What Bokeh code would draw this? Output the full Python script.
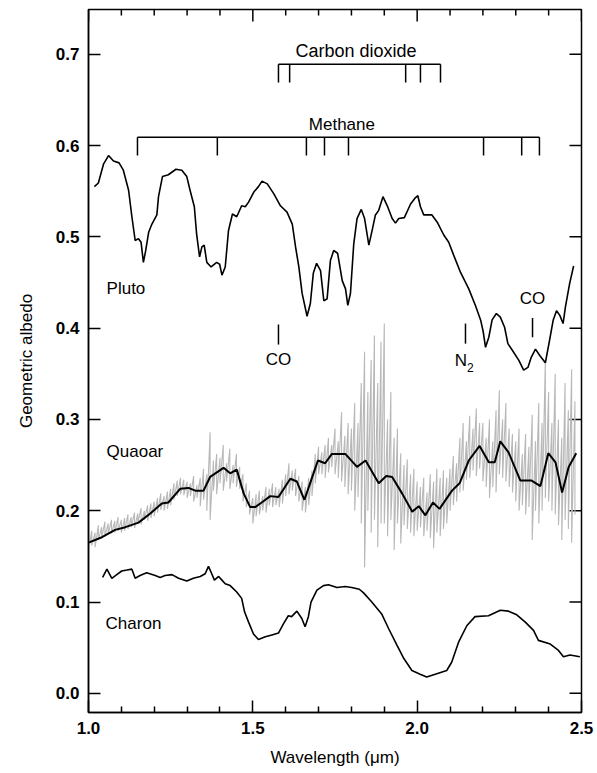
from bokeh.plotting import figure
from bokeh.models import Range1d, FixedTicker, PrintfTickFormatter
from bokeh.core.properties import value
from bokeh.embed import file_html
from bokeh.resources import INLINE

# ---------------- data ----------------
x_ticks = [1.0, 1.5, 2.0, 2.5]
x_minor = [1.1, 1.2, 1.3, 1.4, 1.6, 1.7, 1.8, 1.9, 2.1, 2.2, 2.3, 2.4]
y_ticks = [0.0, 0.1, 0.2, 0.3, 0.4, 0.5, 0.6, 0.7]

pluto_x = [1.018, 1.030, 1.046, 1.061, 1.076, 1.093, 1.106, 1.122, 1.132, 1.142, 1.152, 1.160,
           1.167, 1.174, 1.183, 1.193, 1.208, 1.213, 1.225, 1.243, 1.266, 1.284, 1.299, 1.309,
           1.322, 1.329, 1.338, 1.345, 1.352, 1.360, 1.373, 1.390, 1.399, 1.406, 1.416, 1.426,
           1.438, 1.451, 1.466, 1.477, 1.487, 1.503, 1.517, 1.528, 1.544, 1.564, 1.584, 1.604,
           1.620, 1.630, 1.640, 1.650, 1.665, 1.675, 1.684, 1.694, 1.706, 1.716, 1.726, 1.736,
           1.746, 1.758, 1.772, 1.782, 1.789, 1.797, 1.807, 1.817, 1.830, 1.840, 1.853, 1.863,
           1.873, 1.883, 1.896, 1.909, 1.924, 1.934, 1.944, 1.961, 1.980, 1.995, 2.002, 2.010,
           2.020, 2.045, 2.061, 2.081, 2.096, 2.111, 2.132, 2.157, 2.177, 2.193, 2.201, 2.208,
           2.218, 2.228, 2.241, 2.253, 2.266, 2.276, 2.289, 2.309, 2.324, 2.337, 2.347, 2.360,
           2.373, 2.390, 2.403, 2.414, 2.424, 2.434, 2.444, 2.451, 2.464, 2.476]
pluto_y = [0.555, 0.559, 0.580, 0.589, 0.583, 0.581, 0.573, 0.551, 0.522, 0.496, 0.498, 0.494,
           0.472, 0.485, 0.505, 0.514, 0.524, 0.544, 0.566, 0.568, 0.574, 0.573, 0.566, 0.551,
           0.533, 0.503, 0.478, 0.489, 0.491, 0.472, 0.467, 0.472, 0.470, 0.458, 0.467, 0.507,
           0.525, 0.522, 0.534, 0.533, 0.538, 0.549, 0.555, 0.561, 0.558, 0.547, 0.534, 0.527,
           0.514, 0.489, 0.467, 0.438, 0.413, 0.427, 0.460, 0.471, 0.463, 0.430, 0.432, 0.474,
           0.485, 0.482, 0.452, 0.443, 0.425, 0.438, 0.492, 0.520, 0.530, 0.520, 0.491, 0.507,
           0.524, 0.529, 0.544, 0.534, 0.520, 0.515, 0.520, 0.521, 0.536, 0.543, 0.545, 0.533,
           0.524, 0.524, 0.516, 0.502, 0.494, 0.480, 0.461, 0.443, 0.425, 0.409, 0.396, 0.379,
           0.390, 0.409, 0.416, 0.412, 0.401, 0.383, 0.376, 0.365, 0.354, 0.357, 0.368, 0.377,
           0.370, 0.362, 0.387, 0.409, 0.419, 0.414, 0.405, 0.423, 0.449, 0.468]

quaoar_bin_x = [1.000, 1.041, 1.081, 1.112, 1.152, 1.188, 1.223, 1.243, 1.279, 1.304, 1.325, 1.350,
                1.370, 1.411, 1.431, 1.451, 1.472, 1.492, 1.507, 1.527, 1.553, 1.578, 1.614, 1.634,
                1.657, 1.677, 1.698, 1.720, 1.740, 1.782, 1.817, 1.843, 1.883, 1.906, 1.924, 1.954,
                1.985, 2.005, 2.025, 2.048, 2.068, 2.106, 2.129, 2.157, 2.190, 2.218, 2.236, 2.253,
                2.278, 2.314, 2.348, 2.375, 2.399, 2.421, 2.441, 2.461, 2.484]
quaoar_bin_y = [0.165, 0.171, 0.179, 0.182, 0.187, 0.197, 0.208, 0.209, 0.224, 0.225, 0.222, 0.222,
                0.237, 0.247, 0.241, 0.245, 0.219, 0.204, 0.204, 0.209, 0.216, 0.215, 0.235, 0.232,
                0.212, 0.233, 0.255, 0.252, 0.262, 0.262, 0.248, 0.255, 0.230, 0.238, 0.237, 0.219,
                0.199, 0.205, 0.195, 0.209, 0.202, 0.222, 0.230, 0.255, 0.271, 0.253, 0.253, 0.276,
                0.264, 0.233, 0.233, 0.227, 0.263, 0.253, 0.220, 0.248, 0.263]

quaoar_raw_x = [1.00, 1.01, 1.02, 1.03, 1.04, 1.05, 1.06, 1.07, 1.08, 1.09,
                1.10, 1.11, 1.12, 1.13, 1.14, 1.15, 1.16, 1.17, 1.18, 1.19,
                1.20, 1.21, 1.22, 1.23, 1.24, 1.25, 1.26, 1.27, 1.28, 1.29,
                1.30, 1.31, 1.32, 1.33, 1.34, 1.35, 1.36, 1.37, 1.38, 1.39,
                1.40, 1.41, 1.42, 1.43, 1.44, 1.45, 1.46, 1.47, 1.48, 1.49,
                1.50, 1.51, 1.52, 1.53, 1.54, 1.55, 1.56, 1.57, 1.58, 1.59,
                1.60, 1.61, 1.62, 1.63, 1.64, 1.65, 1.66, 1.67, 1.68, 1.69,
                1.70, 1.71, 1.72, 1.73, 1.74, 1.75, 1.76, 1.77, 1.78, 1.79,
                1.80, 1.81, 1.82, 1.83, 1.84, 1.85, 1.86, 1.87, 1.88, 1.89,
                1.90, 1.91, 1.92, 1.93, 1.94, 1.95, 1.96, 1.97, 1.98, 1.99,
                2.00, 2.01, 2.02, 2.03, 2.04, 2.05, 2.06, 2.07, 2.08, 2.09,
                2.10, 2.11, 2.12, 2.13, 2.14, 2.15, 2.16, 2.17, 2.18, 2.19,
                2.20, 2.21, 2.22, 2.23, 2.24, 2.25, 2.26, 2.27, 2.28, 2.29,
                2.30, 2.31, 2.32, 2.33, 2.34, 2.35, 2.36, 2.37, 2.38, 2.39,
                2.40, 2.41, 2.42, 2.43, 2.44, 2.45, 2.46, 2.47, 2.48]
quaoar_raw_hi = [0.172, 0.178, 0.176, 0.184, 0.182, 0.188, 0.186, 0.190, 0.189, 0.193,
                 0.190, 0.192, 0.196, 0.193, 0.198, 0.197, 0.203, 0.200, 0.206, 0.208,
                 0.210, 0.214, 0.219, 0.216, 0.221, 0.224, 0.230, 0.233, 0.236, 0.234,
                 0.232, 0.230, 0.238, 0.228, 0.236, 0.246, 0.240, 0.286, 0.255, 0.262,
                 0.258, 0.272, 0.252, 0.268, 0.250, 0.262, 0.248, 0.240, 0.230, 0.222,
                 0.214, 0.218, 0.222, 0.216, 0.226, 0.224, 0.230, 0.226, 0.224, 0.234,
                 0.240, 0.252, 0.244, 0.246, 0.238, 0.232, 0.226, 0.236, 0.244, 0.262,
                 0.270, 0.264, 0.272, 0.280, 0.272, 0.290, 0.276, 0.308, 0.282, 0.296,
                 0.290, 0.318, 0.296, 0.340, 0.374, 0.330, 0.365, 0.392, 0.340, 0.385,
                 0.405, 0.300, 0.330, 0.280, 0.290, 0.263, 0.250, 0.256, 0.240, 0.246,
                 0.232, 0.226, 0.236, 0.220, 0.240, 0.232, 0.246, 0.236, 0.244, 0.236,
                 0.246, 0.260, 0.252, 0.280, 0.296, 0.276, 0.304, 0.290, 0.312, 0.296,
                 0.296, 0.280, 0.300, 0.276, 0.310, 0.332, 0.300, 0.318, 0.290, 0.284,
                 0.276, 0.290, 0.262, 0.284, 0.270, 0.305, 0.276, 0.318, 0.296, 0.365,
                 0.330, 0.296, 0.350, 0.300, 0.280, 0.340, 0.310, 0.355, 0.320]
quaoar_raw_lo = [0.156, 0.162, 0.160, 0.168, 0.170, 0.172, 0.174, 0.175, 0.176, 0.178,
                 0.176, 0.178, 0.180, 0.182, 0.181, 0.186, 0.185, 0.190, 0.189, 0.192,
                 0.194, 0.198, 0.201, 0.200, 0.202, 0.206, 0.212, 0.216, 0.218, 0.217,
                 0.214, 0.216, 0.210, 0.214, 0.205, 0.212, 0.200, 0.190, 0.222, 0.218,
                 0.230, 0.222, 0.232, 0.224, 0.230, 0.226, 0.224, 0.210, 0.204, 0.196,
                 0.186, 0.194, 0.196, 0.200, 0.198, 0.206, 0.204, 0.206, 0.204, 0.208,
                 0.216, 0.218, 0.222, 0.216, 0.210, 0.200, 0.198, 0.206, 0.216, 0.230,
                 0.240, 0.240, 0.236, 0.242, 0.248, 0.240, 0.236, 0.232, 0.226, 0.218,
                 0.222, 0.200, 0.215, 0.186, 0.138, 0.200, 0.176, 0.190, 0.160, 0.186,
                 0.186, 0.172, 0.190, 0.157, 0.186, 0.164, 0.184, 0.180, 0.176, 0.172,
                 0.178, 0.182, 0.172, 0.178, 0.170, 0.159, 0.176, 0.172, 0.180, 0.186,
                 0.200, 0.206, 0.210, 0.220, 0.222, 0.234, 0.236, 0.244, 0.238, 0.246,
                 0.232, 0.226, 0.214, 0.226, 0.220, 0.240, 0.236, 0.232, 0.226, 0.220,
                 0.210, 0.200, 0.206, 0.196, 0.204, 0.168, 0.200, 0.186, 0.200, 0.214,
                 0.210, 0.200, 0.196, 0.184, 0.168, 0.190, 0.180, 0.165, 0.196]

charon_x = [1.043, 1.056, 1.071, 1.086, 1.101, 1.117, 1.132, 1.142, 1.157, 1.177, 1.203, 1.218,
            1.233, 1.254, 1.274, 1.299, 1.319, 1.340, 1.355, 1.365, 1.375, 1.383, 1.396, 1.406,
            1.416, 1.431, 1.451, 1.466, 1.475, 1.487, 1.502, 1.517, 1.538, 1.558, 1.578, 1.593,
            1.608, 1.618, 1.634, 1.649, 1.659, 1.669, 1.677, 1.695, 1.715, 1.730, 1.756, 1.781,
            1.801, 1.824, 1.837, 1.862, 1.892, 1.913, 1.938, 1.958, 1.984, 2.009, 2.029, 2.055,
            2.090, 2.105, 2.126, 2.151, 2.176, 2.217, 2.253, 2.278, 2.303, 2.329, 2.354, 2.369,
            2.405, 2.430, 2.445, 2.465, 2.495]
charon_y = [0.127, 0.136, 0.126, 0.130, 0.134, 0.135, 0.136, 0.126, 0.129, 0.132, 0.129, 0.127,
            0.129, 0.130, 0.126, 0.123, 0.126, 0.128, 0.131, 0.139, 0.131, 0.124, 0.128, 0.124,
            0.120, 0.118, 0.111, 0.104, 0.089, 0.078, 0.065, 0.059, 0.062, 0.064, 0.066, 0.076,
            0.085, 0.084, 0.090, 0.082, 0.073, 0.084, 0.100, 0.113, 0.118, 0.119, 0.116, 0.117,
            0.116, 0.114, 0.110, 0.100, 0.087, 0.071, 0.053, 0.039, 0.025, 0.021, 0.018, 0.021,
            0.025, 0.034, 0.056, 0.074, 0.084, 0.085, 0.091, 0.090, 0.086, 0.078, 0.069, 0.058,
            0.054, 0.047, 0.040, 0.042, 0.040]

co2_bands = [1.578, 1.612, 1.965, 2.010, 2.071]
ch4_bands = [1.149, 1.392, 1.663, 1.718, 1.791, 2.202, 2.318, 2.372]
co_bands = [1.578, 2.351]
n2_bands = [2.147]

FONT = value("Liberation Sans")

X0, X1, Y0, Y1 = 1.0, 2.5, -0.021, 0.749
W, H = 597, 773
BL, BR, BT, BB = 88, 16, 9, 61

p = figure(width=W, height=H, x_range=Range1d(X0, X1), y_range=Range1d(Y0, Y1),
           output_backend="svg", toolbar_location=None,
           min_border_left=BL, min_border_right=BR, min_border_top=BT, min_border_bottom=BB)
p.grid.visible = False
p.outline_line_color = "black"
p.outline_line_width = 1.5
p.background_fill_color = "white"
p.border_fill_color = "white"

for ax in p.xaxis + p.yaxis:
    ax.axis_line_width = 1.5
    ax.axis_line_color = "black"
    ax.major_tick_in = 12
    ax.major_tick_out = 0
    ax.minor_tick_in = 6
    ax.minor_tick_out = 0
    ax.major_tick_line_width = 1.5
    ax.minor_tick_line_width = 1.5
    ax.major_tick_line_color = "black"
    ax.minor_tick_line_color = "black"
    ax.major_label_text_font = "Liberation Sans"
    ax.major_label_text_font_style = "bold"
    ax.major_label_text_font_size = "17px"
    ax.major_label_text_color = "black"
    ax.major_label_standoff = 9
    ax.axis_label_text_font = "Liberation Sans"
    ax.axis_label_text_font_style = "normal"
    ax.axis_label_text_font_size = "17px"
    ax.axis_label_text_color = "black"

p.xaxis.ticker = FixedTicker(ticks=x_ticks, minor_ticks=x_minor)
p.yaxis.ticker = FixedTicker(ticks=y_ticks, minor_ticks=[])
p.xaxis.formatter = PrintfTickFormatter(format="%.1f")
p.yaxis.formatter = PrintfTickFormatter(format="%.1f")
p.xaxis.axis_label = "Wavelength (μm)"
p.yaxis.axis_label = "Geometric albedo"
p.xaxis.axis_label_standoff = 11
p.yaxis.axis_label_standoff = 17

# mirrored inward ticks on the top and right edges of the frame
px_per_x = (W - BL - BR) / (X1 - X0)
px_per_y = (H - BT - BB) / (Y1 - Y0)
p.segment(x0=x_ticks, y0=[Y1] * len(x_ticks), x1=x_ticks, y1=[Y1 - 12 / px_per_y] * len(x_ticks),
          line_color="black", line_width=1.5)
p.segment(x0=x_minor, y0=[Y1] * len(x_minor), x1=x_minor, y1=[Y1 - 6 / px_per_y] * len(x_minor),
          line_color="black", line_width=1.5)
p.segment(x0=[X1] * len(y_ticks), y0=y_ticks, x1=[X1 - 12 / px_per_x] * len(y_ticks), y1=y_ticks,
          line_color="black", line_width=1.5)

# Quaoar raw spectrum (grey)
zig_x, zig_y = [], []
for i, xv in enumerate(quaoar_raw_x):
    zig_x += [xv, xv]
    zig_y += [quaoar_raw_hi[i], quaoar_raw_lo[i]]
p.line(zig_x, zig_y, line_color="#b8b8b8", line_width=1.1)

# Spectra
p.line(pluto_x, pluto_y, line_color="black", line_width=1.6)
p.line(quaoar_bin_x, quaoar_bin_y, line_color="black", line_width=2.0)
p.line(charon_x, charon_y, line_color="black", line_width=1.6)

# Band brackets
co2_level, co2_drop = 0.689, 0.020
ch4_level, ch4_drop = 0.609, 0.020
p.segment(x0=[min(co2_bands)], y0=[co2_level], x1=[max(co2_bands)], y1=[co2_level],
          line_color="black", line_width=1.5)
p.segment(x0=co2_bands, y0=[co2_level] * len(co2_bands), x1=co2_bands,
          y1=[co2_level - co2_drop] * len(co2_bands), line_color="black", line_width=1.5)
p.segment(x0=[min(ch4_bands)], y0=[ch4_level], x1=[max(ch4_bands)], y1=[ch4_level],
          line_color="black", line_width=1.5)
p.segment(x0=ch4_bands, y0=[ch4_level] * len(ch4_bands), x1=ch4_bands,
          y1=[ch4_level - ch4_drop] * len(ch4_bands), line_color="black", line_width=1.5)

# CO and N2 markers
p.segment(x0=[co_bands[0]], y0=[0.404], x1=[co_bands[0]], y1=[0.382], line_color="black", line_width=1.5)
p.segment(x0=[co_bands[1]], y0=[0.411], x1=[co_bands[1]], y1=[0.390], line_color="black", line_width=1.5)
p.segment(x0=n2_bands, y0=[0.405], x1=n2_bands, y1=[0.383], line_color="black", line_width=1.5)

txt = dict(text_font=FONT, text_font_size="17px", text_color="black", text_baseline="middle")
p.text(x=[1.814], y=[0.704], text=["Carbon dioxide"], text_align="center",
       text_font=FONT, text_font_size="18px", text_color="black", text_baseline="middle")
p.text(x=[1.771], y=[0.623], text=["Methane"], text_align="center", **txt)
p.text(x=[co_bands[0]], y=[0.366], text=["CO"], text_align="center", **txt)
p.text(x=[co_bands[1]], y=[0.433], text=["CO"], text_align="center", **txt)
p.text(x=[2.152], y=[0.365], text=["N"], text_align="right", **txt)
p.text(x=[2.152], y=[0.357], text=["2"], text_align="left", text_font=FONT, text_font_size="12px",
       text_color="black", text_baseline="middle")
p.text(x=[1.055, 1.055, 1.052], y=[0.443, 0.265, 0.077], text=["Pluto", "Quaoar", "Charon"],
       text_align="left", **txt)

open("out.html", "w").write(file_html(p, INLINE))
